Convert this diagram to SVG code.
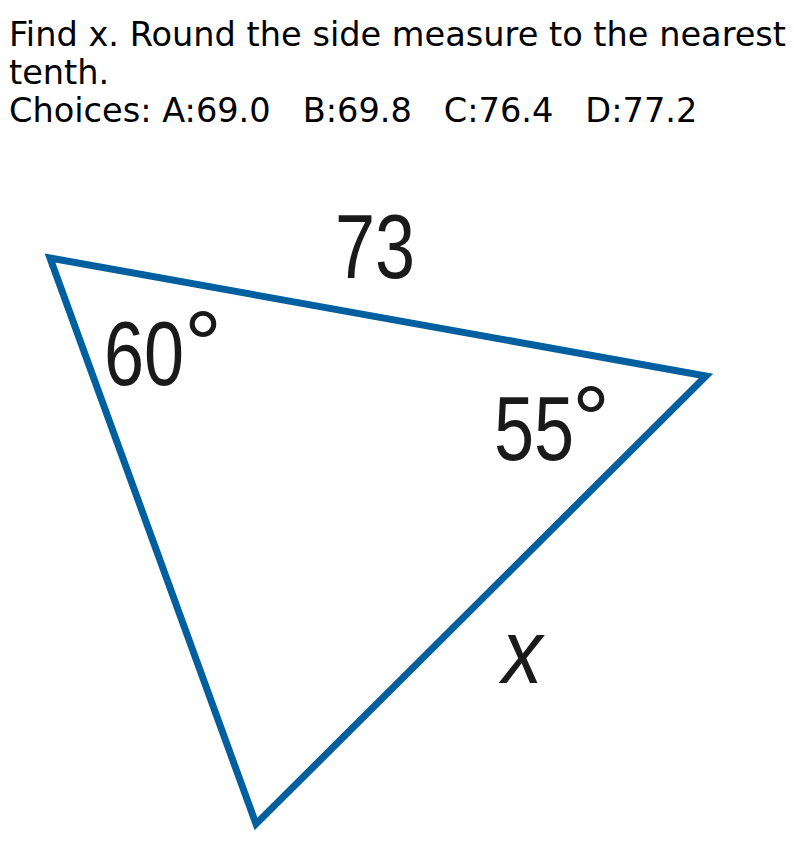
<svg xmlns="http://www.w3.org/2000/svg" width="794" height="849" viewBox="0 0 794 849">
<style>
.q{font-family:"DejaVu Sans",sans-serif;font-size:33.6px;fill:#000;white-space:pre}
.lab{font-family:"Liberation Sans",Arial,sans-serif;font-size:90px;fill:#1a1a1a}
.deg{font-family:"Liberation Sans",Arial,sans-serif;font-size:95px;fill:#1a1a1a}
.edge{fill:none;stroke:#005f9e;stroke-width:7;stroke-linejoin:miter}
</style>
<rect width="794" height="849" fill="#fff"/>
<g id="question">
<text class="q" x="9" y="46" xml:space="preserve">Find x. Round the side measure to the nearest</text>
<text class="q" x="9" y="84" xml:space="preserve">tenth.</text>
<text class="q" x="9" y="122" xml:space="preserve">Choices: A:69.0   B:69.8   C:76.4   D:77.2</text>
</g>
<g id="connectors">
<polygon class="edge" points="50,258 706,376 256,824"/>
</g>
<g id="label-73"><text class="lab" transform="translate(335,278) scale(0.8,1)">73</text></g>
<g id="label-60"><text class="lab" transform="translate(104,385) scale(0.8,1)">60</text><text class="deg" x="184" y="377">°</text></g>
<g id="label-55"><text class="lab" transform="translate(494,460) scale(0.8,1)">55</text><text class="deg" x="572" y="452">°</text></g>
<g id="label-x"><text class="lab" font-style="italic" font-size="86" transform="translate(502,683) scale(0.9,1)">x</text></g>
</svg>
